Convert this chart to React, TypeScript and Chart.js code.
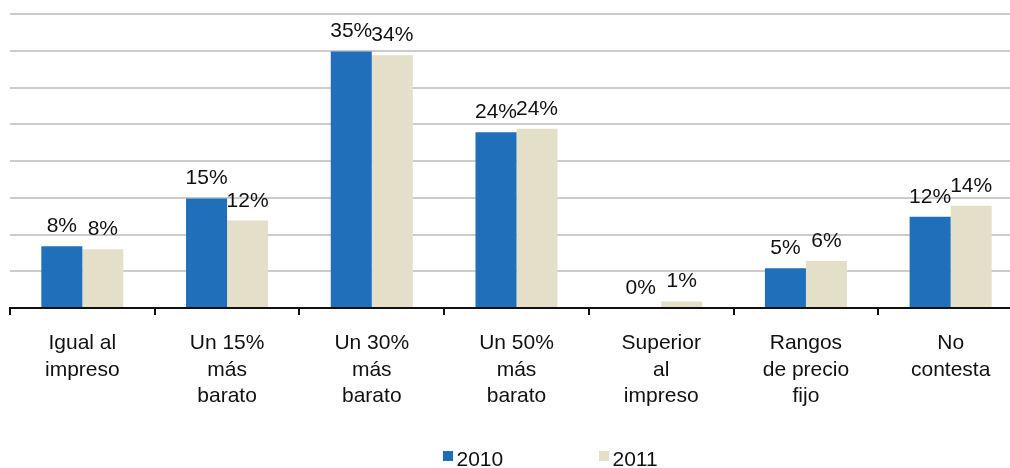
import React, { useEffect, useRef } from "react";
import { Chart, registerables } from "chart.js";

Chart.register(...registerables);

const categories: string[][] = [
  ["Igual al", "impreso"],
  ["Un 15%", "más", "barato"],
  ["Un 30%", "más", "barato"],
  ["Un 50%", "más", "barato"],
  ["Superior", "al", "impreso"],
  ["Rangos", "de precio", "fijo"],
  ["No", "contesta"],
];
const values2010: number[] = [8.4, 14.9, 34.9, 23.9, 0, 5.4, 12.4];
const values2011: number[] = [8.0, 11.9, 34.4, 24.4, 0.9, 6.4, 13.9];
const seriesNames: string[] = ["2010", "2011"];
const seriesColors: string[] = ["#1f6fba", "#e4dfc8"];
const yTicks: number[] = [0, 5, 10, 15, 20, 25, 30, 35, 40];

const FONT = '"Liberation Sans", Arial, Helvetica, sans-serif';
const FONT_SIZE = 21;
const TEXT_COLOR = "#111111";

const labelPlugin = {
  id: "barLabels",
  afterDatasetsDraw(chart: any) {
    const ctx = chart.ctx;
    ctx.save();
    ctx.font = `${FONT_SIZE}px ${FONT}`;
    ctx.fillStyle = TEXT_COLOR;
    ctx.textAlign = "center";
    ctx.textBaseline = "alphabetic";
    chart.data.datasets.forEach((ds: any, di: number) => {
      const meta = chart.getDatasetMeta(di);
      meta.data.forEach((bar: any, i: number) => {
        const v = ds.data[i] as number;
        ctx.fillText(`${Math.round(v)}%`, bar.x, bar.y - 14);
      });
    });
    ctx.restore();
  },
};

const legendPlugin = {
  id: "customLegend",
  afterDraw(chart: any) {
    const ctx = chart.ctx;
    const starts = [443, 599];
    ctx.save();
    ctx.font = `${FONT_SIZE}px ${FONT}`;
    ctx.textAlign = "left";
    ctx.textBaseline = "alphabetic";
    chart.data.datasets.forEach((ds: any, i: number) => {
      const x = starts[i];
      ctx.fillStyle = ds.backgroundColor;
      ctx.fillRect(x, 451, 10, 10);
      ctx.fillStyle = TEXT_COLOR;
      ctx.fillText(ds.label, x + 13.5, 466);
    });
    ctx.restore();
  },
};

export default function App() {
  const ref = useRef<HTMLCanvasElement | null>(null);

  useEffect(() => {
    if (!ref.current) return;
    const chart = new Chart(ref.current, {
      type: "bar",
      data: {
        labels: categories,
        datasets: [
          {
            label: seriesNames[0],
            data: values2010,
            backgroundColor: seriesColors[0],
            categoryPercentage: 0.567,
            barPercentage: 1.0,
          },
          {
            label: seriesNames[1],
            data: values2011,
            backgroundColor: seriesColors[1],
            categoryPercentage: 0.567,
            barPercentage: 1.0,
          },
        ],
      },
      options: {
        animation: false,
        responsive: true,
        maintainAspectRatio: false,
        layout: { padding: { left: 10, right: 7, top: 14, bottom: 0 } },
        plugins: {
          legend: { display: false },
          tooltip: { enabled: false },
        },
        scales: {
          x: {
            grid: {
              offset: true,
              drawOnChartArea: false,
              drawTicks: true,
              tickLength: 7,
              color: "#111111",
              lineWidth: 2,
            },
            border: { display: true, color: "#111111", width: 2 },
            ticks: {
              font: { family: FONT, size: FONT_SIZE, lineHeight: 1.27 },
              color: TEXT_COLOR,
              padding: 15,
              maxRotation: 0,
              autoSkip: false,
            },
            afterFit(scale: any) {
              scale.height = 160;
            },
          },
          y: {
            min: 0,
            max: 40,
            afterBuildTicks(scale: any) {
              scale.ticks = yTicks.map((v) => ({ value: v }));
            },
            ticks: { display: false },
            border: { display: false },
            grid: {
              drawTicks: false,
              lineWidth: 2,
              color: (c: any) =>
                c.tick && c.tick.value === 0 ? "rgba(0,0,0,0)" : "#cccccc",
            },
          },
        },
      },
      plugins: [labelPlugin, legendPlugin],
    });
    return () => chart.destroy();
  }, []);

  return (
    <div
      style={{
        position: "fixed",
        left: 0,
        top: 0,
        width: 1010,
        height: 468,
        overflow: "hidden",
        background: "#ffffff",
      }}
    >
      <div style={{ position: "relative", width: 1030, height: 468 }}>
        <canvas ref={ref} />
      </div>
    </div>
  );
}
